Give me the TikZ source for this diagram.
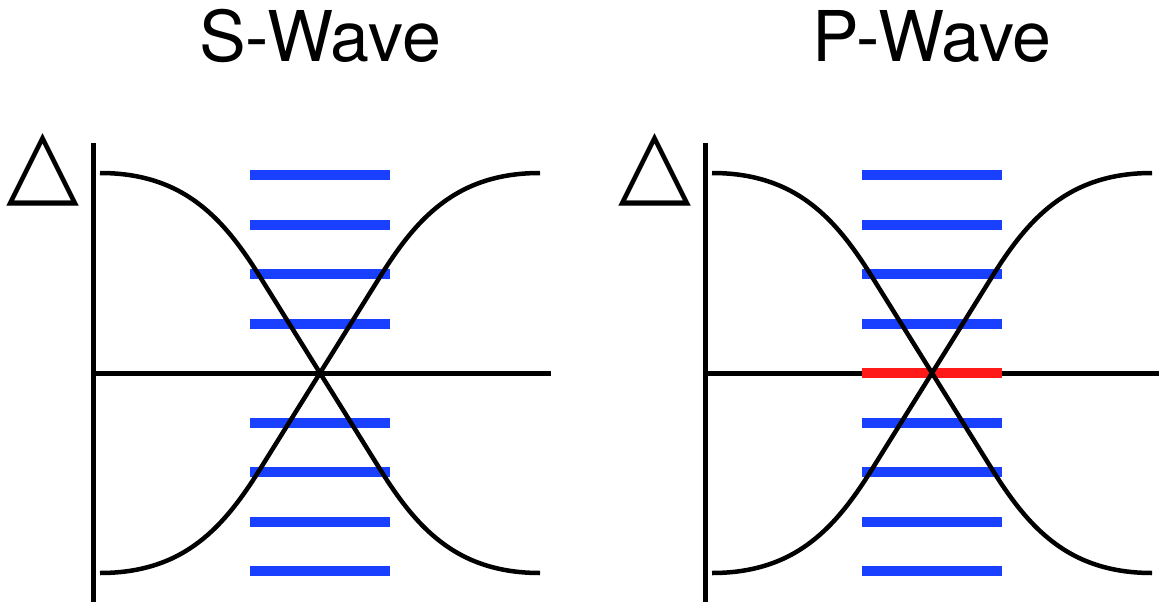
\documentclass[tikz,border=0pt]{standalone}
\usepackage{fontspec}
\setmainfont{TeX Gyre Heros}
\newfontfamily\symfont{DejaVu Sans}
\definecolor{barblue}{RGB}{26,64,255}
\definecolor{barred}{RGB}{255,26,26}
\begin{document}
\begin{tikzpicture}[x=1pt,y=-1pt,
  axisline/.style={line width=5pt, black},
  gapcurve/.style={line width=4.5pt, black},
  level/.style={line width=10pt, barblue},
  zerolevel/.style={line width=10pt, barred},
  title/.style={inner sep=0pt, anchor=base, font=\fontsize{70}{84}\selectfont},
  gaplabel/.style={inner sep=0pt, anchor=base, font=\symfont\fontsize{95}{110}\selectfont}]
\useasboundingbox (0,0) rectangle (1159,602);
% ---------- S-wave panel ----------
\begin{scope}
  \node[title] (ts) at (320,62) {S-Wave};
  \node[gaplabel] (ds) at (43.5,194) {△};
  \draw[axisline] (93,143) -- (93,602);
  \draw[axisline] (93,373) -- (551,373);
  \foreach \y in {175,224.5,274,323.5,422.5,472,521.5,571}
    \draw[level] (250,\y) -- (390,\y);
  \draw[gapcurve] (100,173) .. controls (185,173) and (225,220) .. (262,280) -- (378,466) .. controls (415,526) and (455,573) .. (540,573);
  \draw[gapcurve] (540,173) .. controls (455,173) and (415,220) .. (378,280) -- (262,466) .. controls (225,526) and (185,573) .. (100,573);
\end{scope}
% ---------- P-wave panel ----------
\begin{scope}[shift={(612,0)}]
  \node[title] (tp) at (320,62) {P-Wave};
  \node[gaplabel] (dp) at (43.5,194) {△};
  \draw[axisline] (93,143) -- (93,602);
  \draw[axisline] (93,373) -- (551,373);
  \foreach \y in {175,224.5,274,323.5,422.5,472,521.5,571}
    \draw[level] (250,\y) -- (390,\y);
  \draw[zerolevel] (250,373) -- (390,373);
  \draw[gapcurve] (100,173) .. controls (185,173) and (225,220) .. (262,280) -- (378,466) .. controls (415,526) and (455,573) .. (540,573);
  \draw[gapcurve] (540,173) .. controls (455,173) and (415,220) .. (378,280) -- (262,466) .. controls (225,526) and (185,573) .. (100,573);
\end{scope}
\end{tikzpicture}
\end{document}
